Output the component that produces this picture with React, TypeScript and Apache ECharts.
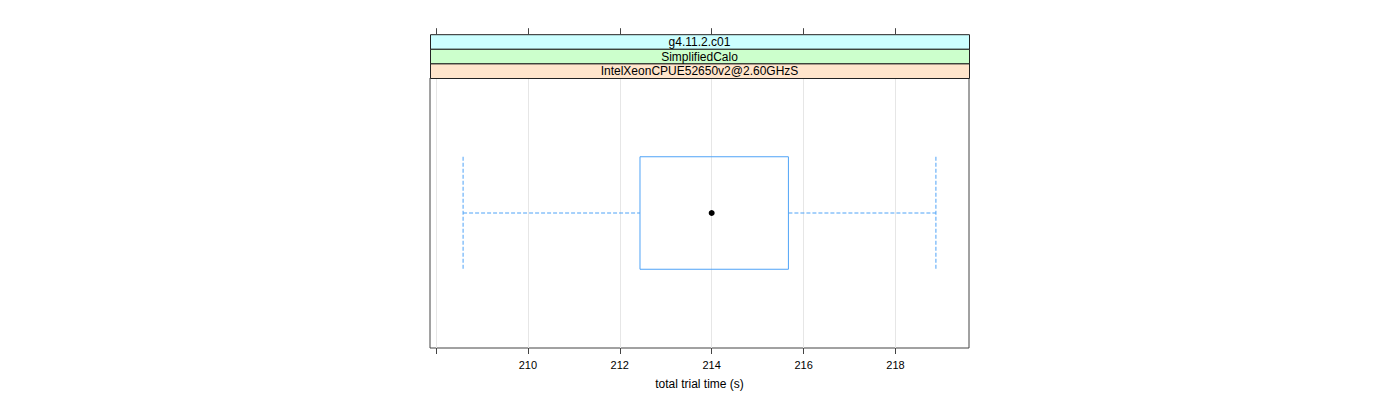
import React, { useEffect, useRef } from "react";
import * as echarts from "echarts";

const stripLabels = ["g4.11.2.c01", "SimplifiedCalo", "IntelXeonCPUE52650v2@2.60GHzS"];
const stripColors = ["#ccffff", "#ccffcc", "#ffe5cc"];
// [lower whisker, Q1, median, Q3, upper whisker]
const boxStats = [208.59, 212.44, 214.0, 215.67, 218.88];
const tickValues = [208, 210, 212, 214, 216, 218];
const labelValues = [210, 212, 214, 216, 218];
const xMin = 207.87;
const xMax = 219.6;
const axisTitle = "total trial time (s)";

const GRID_LEFT = 430;
const GRID_RIGHT = 431;
const GRID_TOP = 78;
const GRID_BOTTOM = 52;
const STRIP_H = 14.6;
const BOX_COLOR = "#4fa3f7";
const FONT = "Liberation Sans, Arial, sans-serif";

export default function App() {
  const ref = useRef<HTMLDivElement>(null);
  useEffect(() => {
    if (!ref.current) return;
    const chart = echarts.init(ref.current, null, { renderer: "svg" });
    const panelW = 1400 - GRID_LEFT - GRID_RIGHT;
    const stripTop = GRID_TOP - STRIP_H * stripLabels.length;
    const graphics: any[] = [];
    stripLabels.forEach((lab, i) => {
      graphics.push({
        type: "rect",
        left: GRID_LEFT,
        top: stripTop + i * STRIP_H,
        shape: { width: panelW, height: STRIP_H },
        style: { fill: stripColors[i], stroke: "#222", lineWidth: 1 },
        z: 10,
      });
      graphics.push({
        type: "text",
        x: GRID_LEFT + panelW / 2,
        y: stripTop + i * STRIP_H + STRIP_H / 2 + 0.5,
        style: {
          text: lab,
          fill: "#000",
          font: `12px ${FONT}`,
          align: "center",
          verticalAlign: "middle",
        },
        z: 11,
      });
    });

    chart.setOption({
      animation: false,
      backgroundColor: "#fff",
      grid: {
        left: GRID_LEFT,
        right: GRID_RIGHT,
        top: GRID_TOP,
        bottom: GRID_BOTTOM,
        show: true,
        borderColor: "#444",
        borderWidth: 1,
        backgroundColor: "transparent",
      },
      graphic: graphics,
      xAxis: [
        {
          type: "value",
          position: "bottom",
          min: xMin,
          max: xMax,
          name: axisTitle,
          nameLocation: "middle",
          nameGap: 30,
          nameTextStyle: { color: "#000", fontSize: 12, fontFamily: FONT },
          axisLine: { show: false },
          splitLine: { show: false },
          axisTick: {
            show: true,
            inside: false,
            length: 6,
            lineStyle: { color: "#444" },
            customValues: tickValues,
          },
          axisLabel: {
            show: true,
            color: "#000",
            fontSize: 11,
            fontFamily: FONT,
            margin: 11,
            customValues: labelValues,
            showMinLabel: true,
            showMaxLabel: true,
          },
        },
        {
          type: "value",
          position: "top",
          offset: STRIP_H * stripLabels.length,
          min: xMin,
          max: xMax,
          axisLine: { show: false },
          splitLine: { show: false },
          axisTick: {
            show: true,
            inside: false,
            length: 6,
            lineStyle: { color: "#444" },
            customValues: tickValues,
          },
          axisLabel: { show: false },
        },
      ],
      yAxis: {
        type: "value",
        min: 0.4,
        max: 1.6,
        show: false,
      },
      series: [
        {
          type: "line",
          data: [],
          xAxisIndex: 0,
          markLine: {
            silent: true,
            symbol: "none",
            label: { show: false },
            lineStyle: { color: "#e6e6e6", type: "solid", width: 1 },
            data: tickValues.map((v) => ({ xAxis: v })),
          },
          z: 1,
        },
        {
          type: "custom",
          xAxisIndex: 0,
          data: [[...boxStats, 1]],
          encode: { x: [0, 1, 2, 3, 4], y: 5 },
          z: 5,
          renderItem: (params: any, api: any) => {
            const lo = api.value(0);
            const q1 = api.value(1);
            const med = api.value(2);
            const q3 = api.value(3);
            const hi = api.value(4);
            const yc = api.value(5);
            const hw = 0.25;
            const pLo = api.coord([lo, yc]);
            const pQ1 = api.coord([q1, yc]);
            const pMed = api.coord([med, yc]);
            const pQ3 = api.coord([q3, yc]);
            const pHi = api.coord([hi, yc]);
            const yTop = api.coord([q1, yc + hw])[1];
            const yBot = api.coord([q1, yc - hw])[1];
            const dash = { stroke: BOX_COLOR, lineWidth: 1, lineDash: [4, 2], fill: null };
            return {
              type: "group",
              children: [
                {
                  type: "line",
                  shape: { x1: pLo[0], y1: pLo[1], x2: pQ1[0], y2: pQ1[1] },
                  style: dash,
                },
                {
                  type: "line",
                  shape: { x1: pQ3[0], y1: pQ3[1], x2: pHi[0], y2: pHi[1] },
                  style: dash,
                },
                {
                  type: "line",
                  shape: { x1: pLo[0], y1: yTop, x2: pLo[0], y2: yBot },
                  style: dash,
                },
                {
                  type: "line",
                  shape: { x1: pHi[0], y1: yTop, x2: pHi[0], y2: yBot },
                  style: dash,
                },
                {
                  type: "rect",
                  shape: { x: pQ1[0], y: yTop, width: pQ3[0] - pQ1[0], height: yBot - yTop },
                  style: { stroke: BOX_COLOR, lineWidth: 1, fill: "transparent" },
                },
                {
                  type: "circle",
                  shape: { cx: pMed[0], cy: pMed[1], r: 3 },
                  style: { fill: "#000", stroke: "#000", lineWidth: 0 },
                },
              ],
            };
          },
        },
      ],
    });
    return () => chart.dispose();
  }, []);
  return (
    <div
      ref={ref}
      style={{ position: "fixed", left: 0, top: 0, width: 1400, height: 400 }}
    />
  );
}
